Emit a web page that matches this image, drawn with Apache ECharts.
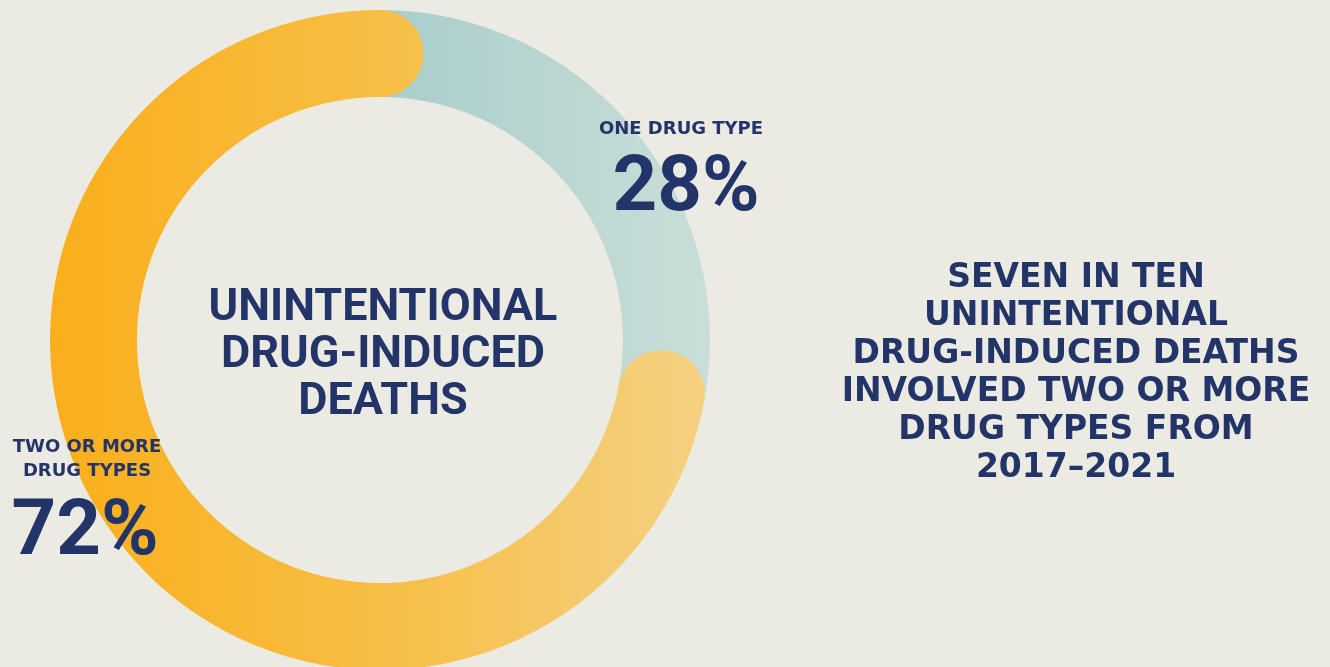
<!DOCTYPE html>
<html><head><meta charset="utf-8">
<script src="https://cdn.jsdelivr.net/npm/echarts@6/dist/echarts.min.js"></script>
<style>html,body{margin:0;padding:0;background:#ECEBE3;} #c{width:1330px;height:667px;}</style>
</head><body><div id="c"></div>
<script>
const categories = ['One drug type', 'Two or more drug types'];
const shareLabels = ['ONE DRUG TYPE', 'TWO OR MORE\nDRUG TYPES'];
const shareValues = [28, 72];
const centerTitle = 'UNINTENTIONAL\nDRUG-INDUCED\nDEATHS';
const sideNote = 'SEVEN IN TEN\nUNINTENTIONAL\nDRUG-INDUCED DEATHS\nINVOLVED TWO OR MORE\nDRUG TYPES FROM\n2017–2021';

const NAVY = '#233568';
const chart = echarts.init(document.getElementById('c'), null, {renderer: 'canvas'});

const tealGrad = new echarts.graphic.LinearGradient(380, 0, 710, 0, [
  {offset: 0, color: '#A9CDCB'}, {offset: 1, color: '#CADED9'}
], true);
const yellowGrad = new echarts.graphic.LinearGradient(50, 0, 710, 0, [
  {offset: 0, color: '#FAAF1B'}, {offset: 0.5, color: '#F7BE45'}, {offset: 1, color: '#F4D183'}
], true);

function txt(x, y, text, family, size, lh) {
  return {type: 'text', x: x, y: y, z: 100, zlevel: 1, silent: true,
    style: {text: text, fill: NAVY, fontFamily: family, fontWeight: 'bold', fontSize: size,
      lineHeight: lh || size * 1.2, align: 'center', verticalAlign: 'middle'}};
}

chart.setOption({
  backgroundColor: '#ECEBE3',
  animation: false,
  polar: {center: [380, 340], radius: [243, 330]},
  angleAxis: {type: 'value', min: 0, max: 100, startAngle: 90, clockwise: true, show: false},
  radiusAxis: {type: 'category', data: ['deaths'], show: false},
  series: [
    {
      name: categories[0], type: 'bar', coordinateSystem: 'polar', stack: 'total',
      data: [shareValues[0]], barCategoryGap: '0%', barWidth: '100%',
      itemStyle: {color: tealGrad}, z: 1, silent: true
    },
    {
      name: categories[1], type: 'bar', coordinateSystem: 'polar', stack: 'total',
      data: [shareValues[1]], barCategoryGap: '0%', barWidth: '100%', roundCap: true,
      itemStyle: {color: yellowGrad}, z: 2, silent: true
    }
  ],
  graphic: [
    txt(681, 129, shareLabels[0], 'DejaVu Sans', 18),
    txt(686, 190, shareValues[0] + '%', 'Roboto', 78, 80),
    txt(87, 459, shareLabels[1], 'DejaVu Sans', 18, 24),
    txt(85, 534, shareValues[1] + '%', 'Roboto', 78, 80),
    txt(383, 356, centerTitle, 'Roboto', 45, 47),
    txt(1076, 373, sideNote, 'DejaVu Sans', 33, 38)
  ]
});
</script></body></html>
